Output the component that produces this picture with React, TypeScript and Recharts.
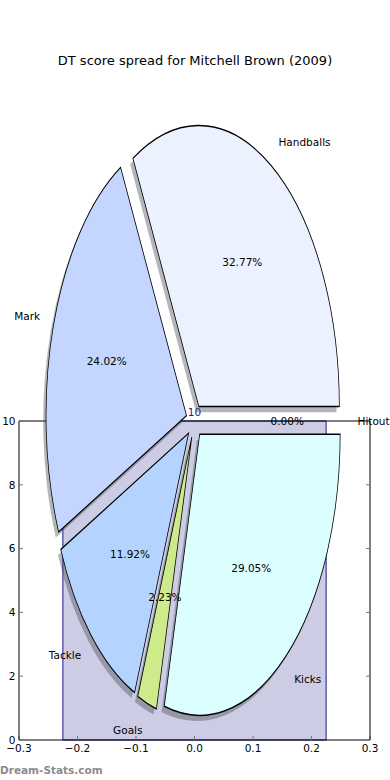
import {
  Cell,
  ComposedChart,
  Label,
  Pie,
  PieChart,
  ReferenceArea,
  XAxis,
  YAxis,
} from "recharts";

// pie slices, counter-clockwise from 3 o'clock (matplotlib order)
const sliceNames = ["Hitout", "Handballs", "Mark", "Tackle", "Goals", "Kicks"];
const slicePercents = [0.0, 32.77, 24.02, 11.92, 2.23, 29.05];
const sliceColors = ["#e8efff", "#ebf1ff", "#c4d6ff", "#b4d4ff", "#cdeb8b", "#dbffff"];
const sliceExplode = [0.06, 0.06, 0.06, 0.06, 0.06, 0.06];

// the bar behind the pie
const barLeft = [-0.225];
const barRight = [0.225];
const barHeights = [10];

const xTicks = [-0.3, -0.2, -0.1, 0, 0.1, 0.2, 0.3];
const yTicks = [0, 2, 4, 6, 8, 10];

const W = 390;
const H = 780;
const FONT = "'DejaVu Sans', sans-serif";

/** pie is drawn round, then stretched vertically to get matplotlib's ellipse */
const Y_STRETCH = 2;
const PIE_CX = 194.5;
const PIE_CY = 421 / Y_STRETCH;
const PIE_R = 140.5;
const SHADOW = 0.02;
const RAD = Math.PI / 180;

const pieData = sliceNames.map((name, i) => ({ name, value: slicePercents[i] }));

function sliceOffsets() {
  const total = slicePercents.reduce((a, b) => a + b, 0);
  let acc = 0;
  return slicePercents.map((v, i) => {
    const mid = ((acc + v / 2) / total) * 360;
    acc += v;
    return {
      dx: sliceExplode[i] * PIE_R * Math.cos(-mid * RAD),
      dy: sliceExplode[i] * PIE_R * Math.sin(-mid * RAD),
    };
  });
}

function fmtTick(v: number) {
  return v.toFixed(1).replace("-", "\u2212");
}

const unstretch = (x: number, y: number) =>
  `translate(${x},${y}) scale(1,${1 / Y_STRETCH})`;

function makeLabel(i: number) {
  return (p: any) => {
    if (p.index !== i) return null;
    const cos = Math.cos(-p.midAngle * RAD);
    const sin = Math.sin(-p.midAngle * RAD);
    const lx = p.cx + p.outerRadius * 1.1 * cos;
    const ly = p.cy + p.outerRadius * 1.1 * sin;
    const px = p.cx + p.outerRadius * 0.6 * cos;
    const py = p.cy + p.outerRadius * 0.6 * sin;
    return (
      <g>
        <text
          transform={unstretch(lx, ly)}
          textAnchor={cos > 0 ? "start" : "end"}
          dominantBaseline="central"
          fontSize={10.5}
          fontFamily={FONT}
          fill="#000"
        >
          {sliceNames[i]}
        </text>
        <text
          transform={unstretch(px, py)}
          textAnchor="middle"
          dominantBaseline="central"
          fontSize={10.5}
          fontFamily={FONT}
          fill="#000"
        >
          {`${(p.percent * 100).toFixed(2)}%`}
        </text>
      </g>
    );
  };
}

const hiddenTick = () => <g />;

export default function App() {
  const offs = sliceOffsets();

  return (
    <div
      style={{
        position: "absolute",
        left: 0,
        top: 0,
        width: W,
        height: H,
        background: "#fff",
        fontFamily: FONT,
        overflow: "hidden",
      }}
    >
      <div
        style={{
          position: "absolute",
          top: 53,
          left: 0,
          width: W,
          textAlign: "center",
          fontSize: 13,
          lineHeight: "16px",
          color: "#000",
        }}
      >
        DT score spread for Mitchell Brown (2009)
      </div>

      <div style={{ position: "absolute", left: 0, top: 0 }}>
        <ComposedChart
          width={W}
          height={H}
          margin={{ top: 420, right: 19, bottom: 0, left: 0 }}
        >
          <XAxis
            type="number"
            dataKey="x"
            domain={[-0.3, 0.3]}
            allowDataOverflow
            ticks={xTicks}
            tickFormatter={fmtTick}
            height={40}
            tickSize={-4}
            tickMargin={8.5}
            tickLine={{ stroke: "#777" }}
            axisLine={{ stroke: "#000" }}
            tick={{ fill: "#000", fontSize: 10.5, fontFamily: FONT }}
            interval={0}
          />
          <XAxis
            xAxisId="top"
            orientation="top"
            type="number"
            domain={[-0.3, 0.3]}
            allowDataOverflow
            ticks={xTicks}
            height={1}
            tickSize={-4}
            tickLine={{ stroke: "#777" }}
            axisLine={{ stroke: "#000" }}
            tick={hiddenTick}
            interval={0}
          />
          <YAxis
            type="number"
            domain={[0, 10]}
            allowDataOverflow
            ticks={yTicks}
            width={19}
            tickSize={-4}
            tickMargin={7.5}
            tickLine={{ stroke: "#777" }}
            axisLine={{ stroke: "#000" }}
            tick={{ fill: "#000", fontSize: 10.5, fontFamily: FONT }}
            interval={0}
          />
          <YAxis
            yAxisId="right"
            orientation="right"
            type="number"
            domain={[0, 10]}
            allowDataOverflow
            ticks={yTicks}
            width={1}
            tickSize={-4}
            tickLine={{ stroke: "#777" }}
            axisLine={{ stroke: "#000" }}
            tick={hiddenTick}
            interval={0}
          />
          {barLeft.map((x1, i) => (
            <ReferenceArea
              key={i}
              x1={x1}
              x2={barRight[i]}
              y1={0}
              y2={barHeights[i]}
              fill="#ccccE5"
              fillOpacity={1}
              stroke="#1a1a8c"
              strokeWidth={1}
            >
              <Label
                value={String(barHeights[i])}
                position="top"
                offset={5}
                fill="#1a1a8c"
                fontSize={10.5}
                fontFamily={FONT}
              />
            </ReferenceArea>
          ))}
        </ComposedChart>
      </div>

      <div
        style={{
          position: "absolute",
          left: 0,
          top: 0,
          transform: `scale(1, ${Y_STRETCH})`,
          transformOrigin: "0 0",
        }}
      >
        <PieChart width={W} height={H / Y_STRETCH} margin={{ top: 0, right: 0, bottom: 0, left: 0 }}>
          {offs.map((o, i) => (
            <Pie
              key={`shadow-${i}`}
              data={pieData}
              dataKey="value"
              nameKey="name"
              cx={PIE_CX + o.dx - SHADOW * PIE_R}
              cy={PIE_CY + o.dy + SHADOW * PIE_R}
              outerRadius={PIE_R}
              innerRadius={0}
              startAngle={0}
              endAngle={360}
              isAnimationActive={false}
              labelLine={false}
            >
              {pieData.map((_, j) => (
                <Cell
                  key={j}
                  fill={j === i ? "#45484d" : "none"}
                  fillOpacity={0.4}
                  stroke="none"
                />
              ))}
            </Pie>
          ))}
          {offs.map((o, i) => (
            <Pie
              key={`slice-${i}`}
              data={pieData}
              dataKey="value"
              nameKey="name"
              cx={PIE_CX + o.dx}
              cy={PIE_CY + o.dy}
              outerRadius={PIE_R}
              innerRadius={0}
              startAngle={0}
              endAngle={360}
              isAnimationActive={false}
              label={makeLabel(i)}
              labelLine={false}
            >
              {pieData.map((_, j) => (
                <Cell
                  key={j}
                  fill={j === i ? sliceColors[j] : "none"}
                  stroke={j === i ? "#000" : "none"}
                  strokeWidth={0.75}
                  vectorEffect="non-scaling-stroke"
                />
              ))}
            </Pie>
          ))}
        </PieChart>
      </div>

      <div
        style={{
          position: "absolute",
          left: 0,
          top: 762,
          fontSize: 10.5,
          lineHeight: "16px",
          fontWeight: "bold",
          color: "#8c8c8c",
        }}
      >
        Dream-Stats.com
      </div>
    </div>
  );
}
